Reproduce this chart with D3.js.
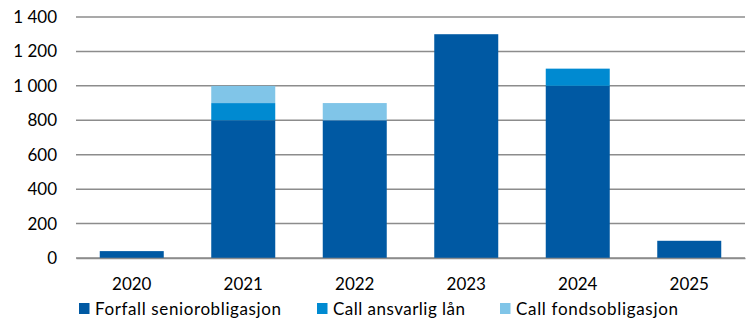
<!DOCTYPE html>
<html><head><meta charset="utf-8">
<script src="https://cdn.jsdelivr.net/npm/d3@7"></script>
<style>body{margin:0;background:#fff}svg{display:block}text{font-family:Lato,"Open Sans",sans-serif;fill:#000}</style>
</head><body><svg id="c" width="751" height="319"></svg>
<script>
const years = ["2020","2021","2022","2023","2024","2025"];
const senior = [40, 800, 800, 1300, 1000, 100];
const ansvarlig = [0, 100, 0, 0, 100, 0];
const fond = [0, 100, 100, 0, 0, 0];
const seriesNames = ["Forfall seniorobligasjon","Call ansvarlig lån","Call fondsobligasjon"];
const colors = ["#0059A3","#008AD1","#80C5E8"];
const yTicks = [0,200,400,600,800,1000,1200,1400];

const svg = d3.select("#c");
const L=76, R=745, T=17, B=258;
const x = d3.scaleBand().domain(years).range([L,R]).paddingInner(0.426).paddingOuter(0.213);
const y = d3.scaleLinear().domain([0,1400]).range([B,T]);
const fmt = v => d3.format(",")(v).replace(/,/g," ");

svg.append("g").selectAll("line").data(yTicks).join("line")
  .attr("x1",L).attr("x2",R).attr("y1",d=>y(d)).attr("y2",d=>y(d))
  .attr("stroke","#8c8c8c").attr("stroke-width",1.5);

const yAxis = svg.append("g").attr("transform",`translate(${L},0)`)
  .call(d3.axisLeft(y).tickValues(yTicks).tickFormat(fmt).tickSize(0).tickPadding(19));
yAxis.select(".domain").remove();
yAxis.selectAll("text").style("font-size","17px").style("font-family","Lato,sans-serif");

const data = years.map((yr,i)=>({year:yr, s0:senior[i], s1:ansvarlig[i], s2:fond[i]}));
const stack = d3.stack().keys(["s0","s1","s2"])(data);
svg.append("g").selectAll("g").data(stack).join("g").attr("fill",(d,i)=>colors[i])
  .selectAll("rect").data(d=>d).join("rect")
  .attr("x",d=>x(d.data.year)).attr("width",x.bandwidth())
  .attr("y",d=>y(d[1])).attr("height",d=>y(d[0])-y(d[1]));

const xAxis = svg.append("g").attr("transform",`translate(0,${B})`)
  .call(d3.axisBottom(x).tickSize(0));
xAxis.select(".domain").attr("stroke","#8c8c8c").attr("stroke-width",1.5);
xAxis.selectAll("text").attr("y",32).attr("dy",0).style("font-size","17px").style("font-family","Lato,sans-serif");

const legSq = [79,317,500];
const legLen = [186,132,162];
const leg = svg.append("g").selectAll("g").data(seriesNames).join("g")
  .attr("transform",(d,i)=>`translate(${legSq[i]},303)`);
leg.append("rect").attr("width",10.5).attr("height",11).attr("fill",(d,i)=>colors[i]);
leg.append("text").attr("x",16).attr("y",12).style("font-size","17px")
  .attr("textLength",(d,i)=>legLen[i]).attr("lengthAdjust","spacing").text(d=>d);
</script></body></html>
